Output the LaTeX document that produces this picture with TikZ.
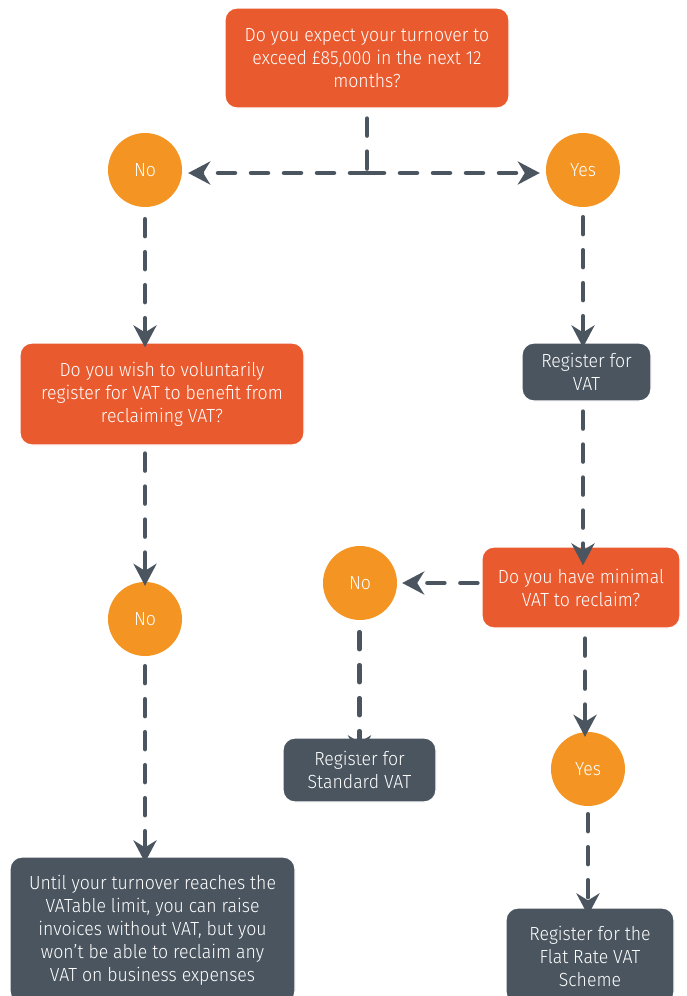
\documentclass[tikz,border=0pt]{standalone}
\usepackage{fontspec}
\setmainfont{Fira Sans}[UprightFont=* Light,FakeStretch=0.93]
\usetikzlibrary{arrows.meta}
\definecolor{qorange}{HTML}{E95B2F}
\definecolor{corange}{HTML}{F39423}
\definecolor{slate}{HTML}{4A555F}
\begin{document}
\begin{tikzpicture}[x=1pt,y=-1pt,
  qbox/.style={fill=qorange,draw=white,line width=1.2pt,rounded corners=12pt,text=white,align=center,inner sep=0pt,
    font=\fontsize{19}{23}\selectfont},
  dbox/.style={fill=slate,draw=white,line width=1.2pt,rounded corners=12pt,text=white,align=center,inner sep=0pt,
    font=\fontsize{19}{23}\selectfont},
  ans/.style={circle,fill=corange,minimum size=74pt,inner sep=0pt,text=white,font=\fontsize{19}{23}\selectfont},
  flow/.style={draw=slate,line width=4.5pt,dash pattern=on 17pt off 16pt,line cap=round,
    -{Stealth[length=22pt,width=23pt,inset=7pt]}},
  flowplain/.style={draw=slate,line width=4.5pt,dash pattern=on 17pt off 16pt,line cap=round}
]
\useasboundingbox (0,0) rectangle (686,996);
% boxes
\node[qbox,minimum width=284pt,minimum height=100pt] (q1) at (367,58) {Do you expect your turnover to\\exceed £85,000 in the next 12\\months?};
\node[ans] (no1) at (145,170) {No};
\node[ans] (yes1) at (583,170) {Yes};
\node[qbox,minimum width=284pt,minimum height=102pt] (q2) at (162,394) {Do you wish to voluntarily\\register for VAT to benefit from\\reclaiming VAT?};
\node[ans] (no2) at (145,619) {No};
\node[dbox,minimum width=285pt,minimum height=146pt] (e1) at (152.5,930) {Until your turnover reaches the\\VATable limit, you can raise\\invoices without VAT, but you\\won't be able to reclaim any\\VAT on business expenses};
\node[dbox,minimum width=129pt,minimum height=58pt] (reg) at (586.5,372) {Register for\\VAT};
\node[qbox,minimum width=198pt,minimum height=81pt] (q3) at (581,587.5) {Do you have minimal\\VAT to reclaim?};
\node[ans] (no3) at (360,583) {No};
\node[dbox,minimum width=153pt,minimum height=64pt] (std) at (359.5,770) {Register for\\Standard VAT};
\node[ans] (yes3) at (588,769) {Yes};
\node[dbox,minimum width=168pt,minimum height=96pt] (flat) at (590,956) {Register for the\\Flat Rate VAT\\Scheme};
% connectors
\coordinate (split) at (367,173);
\draw[flowplain] ([yshift=-10pt]q1.south) -- (split);
\draw[flow] (split) -- ([xshift=6pt]no1.east |- split);
\draw[flow] (split) -- ([xshift=-6pt]yes1.west |- split);
\draw[flow] ([yshift=-12pt]no1.south) -- ([yshift=-5pt]q2.north -| no1);
\draw[flow] ([yshift=-8pt]q2.south -| no2) -- ([yshift=-4pt]no2.north);
\draw[flow] ([yshift=-10pt]no2.south) -- ([yshift=-6pt]e1.north -| no2);
\draw[flow] ([yshift=-10pt]yes1.south) -- ([yshift=-5pt]reg.north -| yes1);
\draw[flow] ([yshift=-10pt]reg.south -| yes1) -- ([yshift=-19pt]q3.north -| yes1);
\draw[flow] ([xshift=-4pt]q3.west |- no3) -- ([xshift=5pt]no3.east);
\draw[flow] ([yshift=-12pt]no3.south -| std) -- ([yshift=-20pt]std.north);
\draw[flow] ([yshift=-10pt]q3.south -| 585,0) -- ([yshift=-5pt]yes3.north -| 585,0);
\draw[flow] ([yshift=-8pt]yes3.south) -- ([yshift=-8pt]flat.north -| yes3);
\end{tikzpicture}
\end{document}
